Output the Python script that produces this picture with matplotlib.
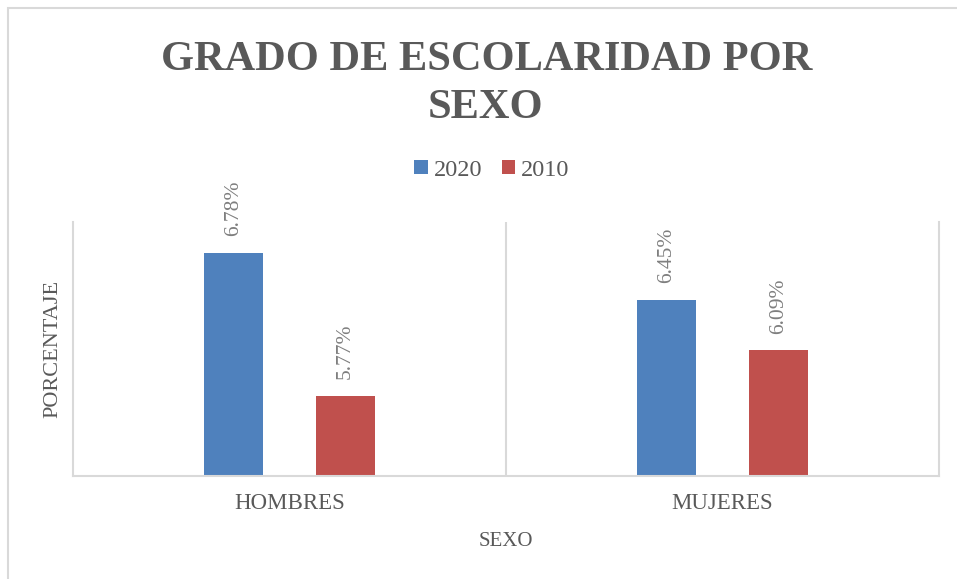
import matplotlib
matplotlib.use("Agg")
import matplotlib.pyplot as plt
from matplotlib.patches import Rectangle, Patch
import numpy as np

categories = ["HOMBRES", "MUJERES"]
series_names = ["2020", "2010"]
values_2020 = [6.78, 6.45]
values_2010 = [5.77, 6.09]
labels_2020 = ["6.78%", "6.45%"]
labels_2010 = ["5.77%", "6.09%"]
title_lines = ["GRADO DE ESCOLARIDAD POR", "SEXO"]

BLUE = "#4F81BD"
RED = "#C0504D"
TXT = "#595959"
LBL = "#7F7F7F"
GRID = "#D9D9D9"
SERIF = "Liberation Serif"

W, H = 957, 579
fig = plt.figure(figsize=(W / 100, H / 100), dpi=100)
fig.patch.set_facecolor("white")

# outer chart border (extends beyond the right/bottom edge)
fig.patches.append(Rectangle((8 / W, -0.1), 1.2, 1 - 8 / H + 0.1, transform=fig.transFigure,
                             fill=False, edgecolor=GRID, linewidth=1.5))

ax = fig.add_axes([73 / W, 103 / H, 866 / W, 254 / H])
x = np.arange(len(categories))
bw = 0.136
off = 0.129
b1 = ax.bar(x - off, values_2020, width=bw, color=BLUE, zorder=2)
b2 = ax.bar(x + off, values_2010, width=bw, color=RED, zorder=2)

for bars, labs in ((b1, labels_2020), (b2, labels_2010)):
    for rect, lab in zip(bars, labs):
        ax.annotate(lab, (rect.get_x() + rect.get_width() / 2, rect.get_height()),
                    xytext=(0, 12), textcoords="offset points", rotation=90,
                    ha="center", va="bottom", fontsize=15.5, color=LBL, family=SERIF)

ax.set_xlim(-0.5, 1.5)
ax.set_ylim(5.2, 7.0)
ax.set_yticks([])
ax.set_xticks(x)
ax.set_xticklabels(categories, fontsize=16.5, color=TXT, family=SERIF)
ax.tick_params(axis="x", length=0, pad=12)
ax.set_xticks([0.5], minor=True)
ax.tick_params(axis="x", which="minor", length=0)
ax.grid(True, axis="x", which="minor", color=GRID, linewidth=1.5, zorder=0)
ax.spines["top"].set_visible(False)
for s in ("left", "right", "bottom"):
    ax.spines[s].set_color(GRID)
    ax.spines[s].set_linewidth(1.5)

ax.set_ylabel("PORCENTAJE", fontsize=16, color=TXT, family=SERIF, labelpad=8)
fig.text(506 / W, 1 - 546 / H, "SEXO", ha="center", va="baseline", fontsize=15,
         color=TXT, family=SERIF)

fig.text(487 / W, 1 - 70 / H, title_lines[0], ha="center", va="baseline",
         fontsize=30.5, fontweight="bold", color=TXT, family=SERIF)
fig.text(486 / W, 1 - 118 / H, title_lines[1], ha="center", va="baseline",
         fontsize=30.5, fontweight="bold", color=TXT, family=SERIF)

handles = [Patch(facecolor=BLUE), Patch(facecolor=RED)]
leg = fig.legend(handles, series_names, loc="center", bbox_to_anchor=(492 / W, 1 - 170 / H),
                 ncol=2, frameon=False, prop={"family": SERIF, "size": 17.5},
                 handlelength=0.55, handleheight=0.55, handletextpad=0.25,
                 columnspacing=0.8, borderaxespad=0, borderpad=0)
for t in leg.get_texts():
    t.set_color(TXT)

fig.savefig("out.png", dpi=100)
